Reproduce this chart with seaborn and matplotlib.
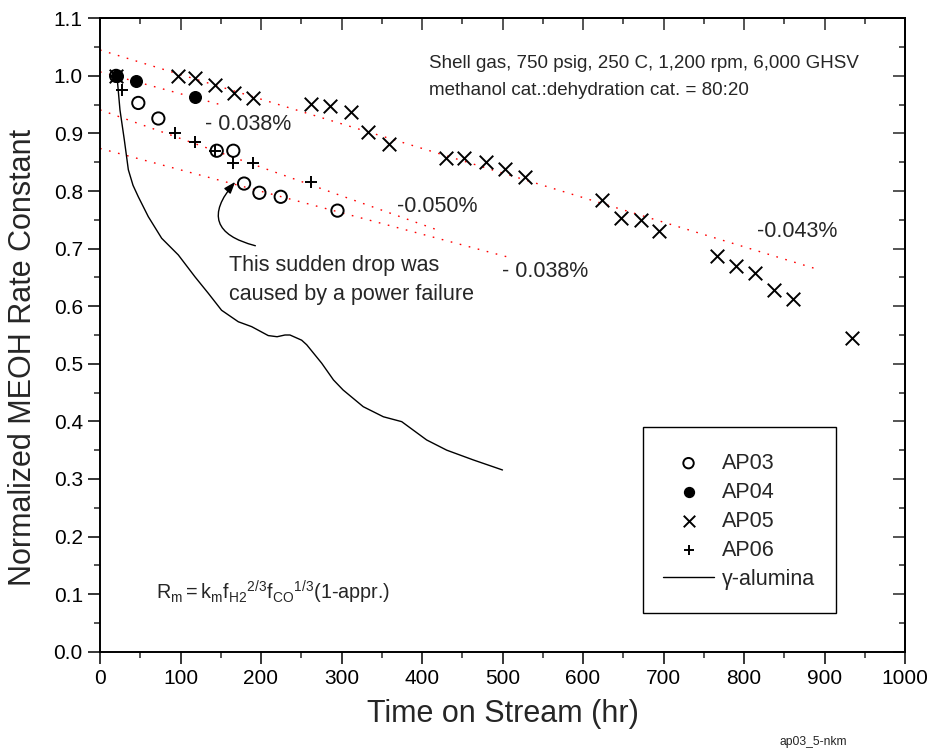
import numpy as np
import pandas as pd
import matplotlib
matplotlib.use("Agg")
import matplotlib.pyplot as plt
import seaborn as sns
from matplotlib.ticker import MultipleLocator, FormatStrFormatter
from matplotlib.patches import Rectangle

# ---------------- data ----------------
ap03_t = [20, 47.6, 72.5, 145, 165.6, 179, 198, 224.5, 295]
ap03_k = [1.0, 0.953, 0.926, 0.870, 0.870, 0.813, 0.797, 0.790, 0.766]

ap04_t = [20.7, 44.7, 118]
ap04_k = [1.0, 0.991, 0.963]

ap05_t = [20, 96.5, 118, 143, 167, 190.5, 262, 285.7, 312, 333, 359, 429.4,
          452.6, 480, 503, 528, 623, 647, 671.7, 694.8, 766, 790, 813.7, 837,
          861, 933.7]
ap05_k = [1.0, 0.999, 0.997, 0.984, 0.970, 0.961, 0.952, 0.947, 0.937, 0.903,
          0.881, 0.857, 0.857, 0.850, 0.838, 0.824, 0.785, 0.753, 0.749, 0.731,
          0.687, 0.670, 0.658, 0.629, 0.6125, 0.544]

ap06_t = [20, 27, 93, 118, 143, 165.6, 190.5, 262]
ap06_k = [1.0, 0.9755, 0.900, 0.885, 0.870, 0.848, 0.848, 0.815]

gam_t = [20.7, 21.9, 24.8, 30.2, 35.2, 41, 47.6, 60, 76.6, 97.3, 118, 134.5, 151,
         171.8, 188.4, 209, 220, 229.8, 236, 250.5, 256.8, 275.4, 290, 302, 327, 352,
         374.8, 405.8, 430.7, 463.8, 500]
gam_k = [0.999, 0.987, 0.941, 0.889, 0.837, 0.810, 0.790, 0.7555, 0.718, 0.689, 0.651,
         0.6225, 0.593, 0.573, 0.5645, 0.549, 0.547, 0.550, 0.550, 0.541, 0.533, 0.501,
         0.472, 0.4545, 0.4255, 0.408, 0.3995, 0.3677, 0.350, 0.333, 0.3156]

# linear fits (red dotted)
fit05_t = [0, 894]
fit05_k = [1.045, 0.663]
fit04_t = [0, 155]
fit04_k = [1.007, 0.948]
fit06_t = [0, 418]
fit06_k = [0.941, 0.733]
fit03_t = [0, 505]
fit03_k = [0.874, 0.686]

rate_labels = ["- 0.038%", "-0.050%", "- 0.038%", "-0.043%"]
x_ticks = list(range(0, 1001, 100))
y_ticks = [round(0.1 * i, 1) for i in range(12)]

# ---------------- style ----------------
sns.set_style("ticks")
plt.rcParams["font.family"] = ["Liberation Sans", "DejaVu Sans"]
plt.rcParams["mathtext.default"] = "regular"
plt.rcParams["mathtext.fontset"] = "custom"
plt.rcParams["mathtext.rm"] = "Liberation Sans"
plt.rcParams["mathtext.it"] = "Liberation Sans"

fig = plt.figure(figsize=(9.35, 7.51), dpi=100)
ax = fig.add_axes([100 / 935, 1 - 651.7 / 751, 805 / 935, 633.4 / 751])

dot = (0, (1.2, 5.5))
for ft, fk in [(fit05_t, fit05_k), (fit04_t, fit04_k), (fit06_t, fit06_k), (fit03_t, fit03_k)]:
    sns.lineplot(x=ft, y=fk, ax=ax, color="red", linewidth=1.0, linestyle=dot, zorder=2)

sns.lineplot(x=gam_t, y=gam_k, ax=ax, color="black", linewidth=1.0, label="γ-alumina", zorder=3)

sns.scatterplot(x=ap05_t, y=ap05_k, ax=ax, marker="x", s=95, color="black",
                linewidth=1.4, label="AP05", zorder=4)
sns.scatterplot(x=ap06_t, y=ap06_k, ax=ax, marker="+", s=85, color="black",
                linewidth=1.4, label="AP06", zorder=4)
sns.scatterplot(x=ap03_t, y=ap03_k, ax=ax, marker="o", s=78, facecolor="none",
                edgecolor="black", linewidth=1.4, label="AP03", zorder=5)
sns.scatterplot(x=ap04_t, y=ap04_k, ax=ax, marker="o", s=70, color="black",
                edgecolor="black", linewidth=1.0, label="AP04", zorder=6)

ax.set_xlim(0, 1000)
ax.set_ylim(0, 1.1)
ax.set_xticks(x_ticks)
ax.set_yticks(y_ticks)
ax.xaxis.set_minor_locator(MultipleLocator(50))
ax.yaxis.set_minor_locator(MultipleLocator(0.05))
ax.yaxis.set_major_formatter(FormatStrFormatter("%.1f"))
ax.tick_params(which="major", direction="out", length=8.4, width=1.1,
               labelsize=15, pad=4, colors="black", top=False, right=False)
ax.tick_params(which="minor", direction="out", length=4.2, width=1.1,
               top=False, right=False)
for sp in ax.spines.values():
    sp.set_visible(True)
    sp.set_linewidth(1.4)
    sp.set_color("black")

secx = ax.secondary_xaxis("top")
secx.xaxis.set_major_locator(MultipleLocator(100))
secx.xaxis.set_minor_locator(MultipleLocator(50))
secx.tick_params(which="major", direction="in", length=8.4, width=1.1, labeltop=False)
secx.tick_params(which="minor", direction="in", length=4.2, width=1.1, labeltop=False)
secy = ax.secondary_yaxis("right")
secy.yaxis.set_major_locator(MultipleLocator(0.1))
secy.yaxis.set_minor_locator(MultipleLocator(0.05))
secy.tick_params(which="major", direction="in", length=8.4, width=1.1, labelright=False)
secy.tick_params(which="minor", direction="in", length=4.2, width=1.1, labelright=False)
for s in (secx, secy):
    for sp in s.spines.values():
        sp.set_linewidth(1.4)

ax.set_xlabel("Time on Stream (hr)", fontsize=22)
ax.set_ylabel("Normalized MEOH Rate Constant", fontsize=22)
ax.xaxis.set_label_coords(0.5, -0.075)
ax.yaxis.set_label_coords(-0.077, 0.465)

# rate labels
ax.text(130.4, 0.9147, rate_labels[0], fontsize=15.5, va="center", ha="left")
ax.text(368.5, 0.774, rate_labels[1], fontsize=15.5, va="center", ha="left")
ax.text(499, 0.660, rate_labels[2], fontsize=15.5, va="center", ha="left")
ax.text(816, 0.729, rate_labels[3], fontsize=15.5, va="center", ha="left")

# condition text
ax.text(408.7, 1.022, "Shell gas, 750 psig, 250 C, 1,200 rpm, 6,000 GHSV",
        fontsize=13.5, va="center", ha="left")
ax.text(408.7, 0.974, "methanol cat.:dehydration cat. = 80:20",
        fontsize=13.5, va="center", ha="left")

# power failure annotation
ax.text(160.6, 0.670, "This sudden drop was", fontsize=15.5, va="center", ha="left")
ax.text(160.6, 0.6195, "caused by a power failure", fontsize=15.5, va="center", ha="left")
ax.annotate("", xy=(168, 0.816), xytext=(193, 0.705),
            arrowprops=dict(arrowstyle="-|>,head_length=0.7,head_width=0.25",
                            color="black", lw=1.0,
                            connectionstyle="arc3,rad=-0.8",
                            shrinkA=0, shrinkB=0))

# formula
ax.text(69.6, 0.091, r"$R_m = k_m f_{H2}{}^{2/3} f_{CO}{}^{1/3}(1\text{-appr.})$",
        fontsize=14.2, va="baseline", ha="left")

# legend
handles, labels = ax.get_legend_handles_labels()
hmap = dict(zip(labels, handles))
order = ["AP03", "AP04", "AP05", "AP06", "γ-alumina"]
ax.legend([hmap[k] for k in order], order, loc="upper left",
          bbox_to_anchor=(0.699, 0.314), borderaxespad=0, borderpad=0,
          frameon=False, fontsize=15.5, handlelength=2.4, handletextpad=0.37,
          labelspacing=0.37, markerscale=0.85)
ax.add_patch(Rectangle((0.6745, 0.0606), 0.9143 - 0.6745, 0.3548 - 0.0606,
                       transform=ax.transAxes, fill=False, edgecolor="black",
                       linewidth=1.0, zorder=7))

fig.text(813 / 935, 1 - 742.3 / 751, "ap03_5-nkm", fontsize=8.7, ha="center", va="center")

fig.savefig("out.png", dpi=100)
